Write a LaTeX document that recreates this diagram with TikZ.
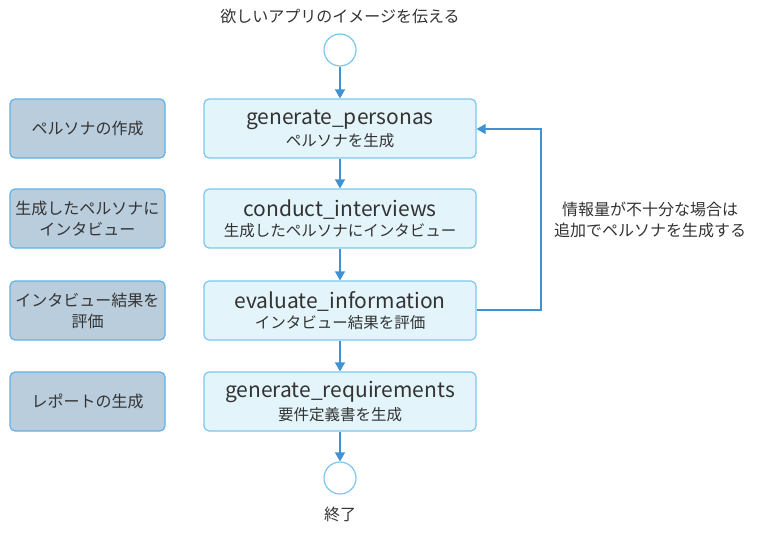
\documentclass[tikz,border=0pt]{standalone}
\usepackage{fontspec}
\setmainfont{Noto Sans CJK JP}
\usetikzlibrary{arrows.meta}
\definecolor{mainfill}{HTML}{E3F4FA}
\definecolor{mainline}{HTML}{7CC8EC}
\definecolor{sidefill}{HTML}{BACDDD}
\definecolor{sideline}{HTML}{5DB2E6}
\definecolor{arrowc}{HTML}{4092D2}
\definecolor{txt}{HTML}{333333}
\tikzset{
  x=1pt,y=-1pt,
  mainbox/.style={draw=mainline,fill=mainfill,line width=1.2pt,rounded corners=5pt,minimum width=272pt,minimum height=59pt,text=txt,align=center,inner sep=0pt},
  sidebox/.style={draw=sideline,fill=sidefill,line width=1.2pt,rounded corners=5pt,minimum width=155pt,minimum height=59pt,text=txt,align=center,font=\fontsize{16}{21}\selectfont,inner sep=0pt},
  termc/.style={circle,draw=mainline,fill=white,line width=1.2pt,minimum size=32pt,inner sep=0pt},
  flow/.style={draw=arrowc,line width=1.2pt,-{Triangle[length=9pt,width=10pt]}},
  lbl/.style={text=txt,font=\fontsize{16}{21}\selectfont,align=center},
}
\newcommand{\eng}[1]{{\fontsize{21}{24}\selectfont #1}}
\newcommand{\jps}[1]{{\fontsize{15.5}{19}\selectfont #1}}
\begin{document}
\begin{tikzpicture}
\useasboundingbox (0,0) rectangle (760,533);
\node[lbl] (toptxt) at (340,16) {欲しいアプリのイメージを伝える};
\node[termc] (start) at (340,50) {};
\node[mainbox] (m1) at (340,128.5) {\eng{generate\_personas}\\[3pt]\jps{ペルソナを生成}};
\node[mainbox] (m2) at (340,218.5) {\eng{conduct\_interviews}\\[3pt]\jps{生成したペルソナにインタビュー}};
\node[mainbox] (m3) at (340,310.5) {\eng{evaluate\_information}\\[3pt]\jps{インタビュー結果を評価}};
\node[mainbox] (m4) at (340,401.5) {\eng{generate\_requirements}\\[3pt]\jps{要件定義書を生成}};
\node[termc] (stop) at (340,478) {};
\node[lbl] (endtxt) at (340,514) {終了};
\node[sidebox] (s1) at (87.5,128.5) {ペルソナの作成};
\node[sidebox] (s2) at (87.5,218.5) {生成したペルソナに\\インタビュー};
\node[sidebox] (s3) at (87.5,310.5) {インタビュー結果を\\評価};
\node[sidebox] (s4) at (87.5,401.5) {レポートの生成};
\draw[flow] (start) -- (m1);
\draw[flow] (m1) -- (m2);
\draw[flow] (m2) -- (m3);
\draw[flow] (m3) -- (m4);
\draw[flow] (m4) -- (stop);
\coordinate (fb1) at (541,310);
\coordinate (fb2) at (541,129);
\draw[flow] (m3.east |- fb1) -- (fb1) -- (fb2) -- (m1.east |- fb2);
\node[lbl] (fbtxt) at (650,220) {情報量が不十分な場合は\\追加でペルソナを生成する};
\end{tikzpicture}
\end{document}
